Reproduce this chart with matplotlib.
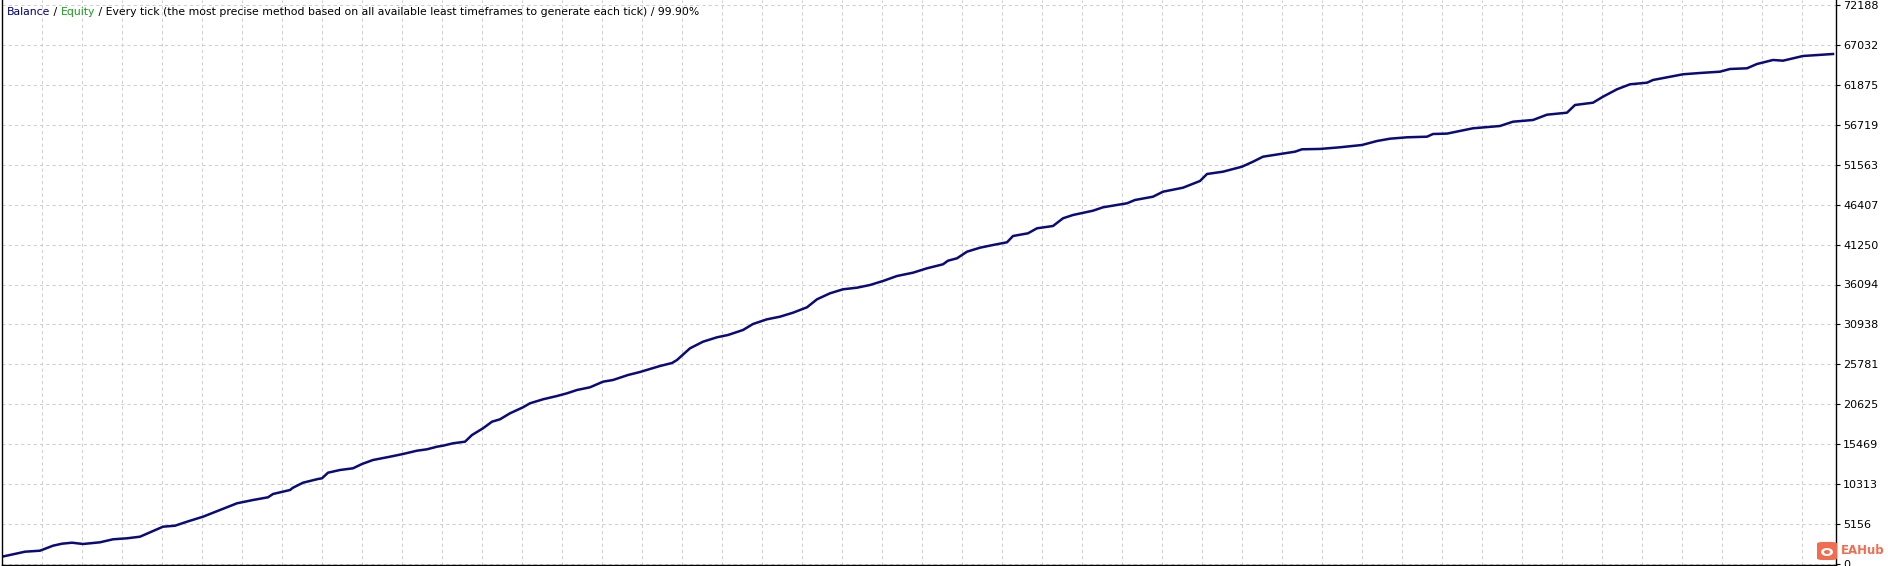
import matplotlib
matplotlib.use("Agg")
import matplotlib.pyplot as plt
from matplotlib.patches import FancyBboxPatch, Ellipse
import numpy as np

W, H, DPI = 1888, 566, 100

# balance curve (position along the test, balance)
trade = [0, 11, 23, 38, 51, 60, 70, 81, 98, 111, 125, 138, 148, 161, 173, 185,
         201, 218, 235, 251, 266, 271, 288, 291, 301, 316, 320, 326, 338, 351,
         360, 371, 388, 401, 415, 425, 435, 441, 451, 463, 470, 481, 490, 498,
         508, 521, 528, 541, 555, 565, 575, 588, 601, 611, 626, 638, 658, 670,
         675, 688, 701, 715, 726, 741, 751, 765, 778, 791, 805, 815, 828, 841,
         855, 868, 881, 895, 911, 925, 941, 946, 955, 965, 978, 991, 1005,
         1011, 1026, 1035, 1051, 1061, 1071, 1091, 1101, 1125, 1133, 1151,
         1161, 1181, 1198, 1205, 1221, 1240, 1251, 1261, 1278, 1293, 1300,
         1318, 1338, 1360, 1375, 1388, 1405, 1425, 1431, 1445, 1471, 1498,
         1511, 1531, 1545, 1565, 1573, 1591, 1601, 1615, 1628, 1645, 1651,
         1665, 1681, 1698, 1718, 1728, 1745, 1755, 1771, 1781, 1801, 1831]
balance = [943, 1253, 1588, 1718, 2363, 2622, 2751, 2583, 2802, 3190, 3319,
           3526, 4094, 4817, 4946, 5463, 6108, 6974, 7839, 8265, 8614, 9040,
           9556, 9853, 10499, 10977, 11067, 11790, 12139, 12359, 12914, 13431,
           13857, 14205, 14632, 14812, 15148, 15277, 15587, 15794, 16659,
           17524, 18377, 18687, 19461, 20236, 20753, 21269, 21696, 22044,
           22470, 22819, 23542, 23762, 24407, 24795, 25570, 25957, 26345,
           27855, 28708, 29276, 29573, 30219, 30994, 31600, 31937, 32453,
           33150, 34183, 34958, 35475, 35681, 36030, 36547, 37192, 37618,
           38187, 38703, 39168, 39478, 40331, 40847, 41196, 41544, 42358,
           42706, 43352, 43649, 44644, 45070, 45625, 46064, 46581, 47007,
           47433, 48079, 48595, 49461, 50365, 50662, 51307, 51953, 52599,
           52947, 53245, 53554, 53600, 53813, 54110, 54626, 54923, 55104,
           55182, 55530, 55580, 56267, 56563, 57119, 57338, 58023, 58282,
           59275, 59572, 60347, 61303, 61948, 62155, 62504, 62852, 63240,
           63408, 63576, 63924, 64014, 64570, 65087, 64997, 65603, 65861]

y_max = 72188
tick_labels = ["0", "5156", "10313", "15469", "20625", "25781", "30938",
               "36094", "41250", "46407", "51563", "56719", "61875", "67032",
               "72188"]
tick_values = np.linspace(0, y_max, len(tick_labels))

header_parts = [("Balance", "#000080"), (" / ", "black"), ("Equity", "#1a9a1a"),
                (" / Every tick (the most precise method based on all available "
                 "least timeframes to generate each tick) / 99.90%", "black")]

fig = plt.figure(figsize=(W / DPI, H / DPI), dpi=DPI)
fig.patch.set_facecolor("white")

# plot box in pixels: x 2..1836, y 0..565 ; value 0 at y=564, max at y=5
per_px = y_max / 559.0
ax = fig.add_axes([2 / W, 1 / H, 1834 / W, 565 / H])
ax.set_xlim(0, 1834)
ax.set_ylim(-1 * per_px, y_max + 5 * per_px)

ax.plot(trade, balance, color="#0a0a78", linewidth=1.8, solid_joinstyle="round")

ax.set_xticks(np.arange(40, 1834, 40))
ax.set_yticks(tick_values)
ax.set_yticklabels(tick_labels)
ax.tick_params(axis="x", length=0, labelbottom=False)
ax.yaxis.tick_right()
ax.tick_params(axis="y", length=3, width=0.8, pad=2, labelsize=8,
               colors="black")
ax.grid(True, color="#cfcfcf", linestyle=(0, (3, 3)), linewidth=0.75)
ax.set_axisbelow(True)

for side in ["left", "bottom", "right"]:
    ax.spines[side].set_color("black")
    ax.spines[side].set_linewidth(1.0)
ax.spines["top"].set_visible(False)

# header text, coloured pieces placed one after another
prev = ax.text(5 / 1834, 1 - 12 / 565, header_parts[0][0], transform=ax.transAxes,
               color=header_parts[0][1], fontsize=7.8, va="center", ha="left")
for txt, col in header_parts[1:]:
    prev = ax.annotate(txt, xy=(1, 0.5), xycoords=prev, va="center", ha="left",
                       color=col, fontsize=7.8)

# EAHub watermark in the bottom-right corner
def px(x, y):
    return x / W, 1 - y / H

x0, y0 = px(1817, 560)
icon = FancyBboxPatch((x0, y0), 20 / W, 18 / H, boxstyle="round,pad=0,rounding_size=0.003",
                      transform=fig.transFigure, facecolor="#f26d4f",
                      edgecolor="none", zorder=10)
fig.add_artist(icon)
cx, cy = px(1827, 552)
fig.add_artist(Ellipse((cx, cy), 12 / W, 8 / H, transform=fig.transFigure,
                       facecolor="white", edgecolor="none", zorder=11))
fig.add_artist(Ellipse((cx, cy), 6 / W, 4 / H, transform=fig.transFigure,
                       facecolor="#f26d4f", edgecolor="none", zorder=12))
tx, ty = px(1841, 551)
fig.text(tx, ty, "EAHub", color="#f26d4f", fontsize=8.5, fontweight="bold",
         va="center", ha="left", zorder=12)

fig.savefig("out.png", dpi=DPI, facecolor="white")
